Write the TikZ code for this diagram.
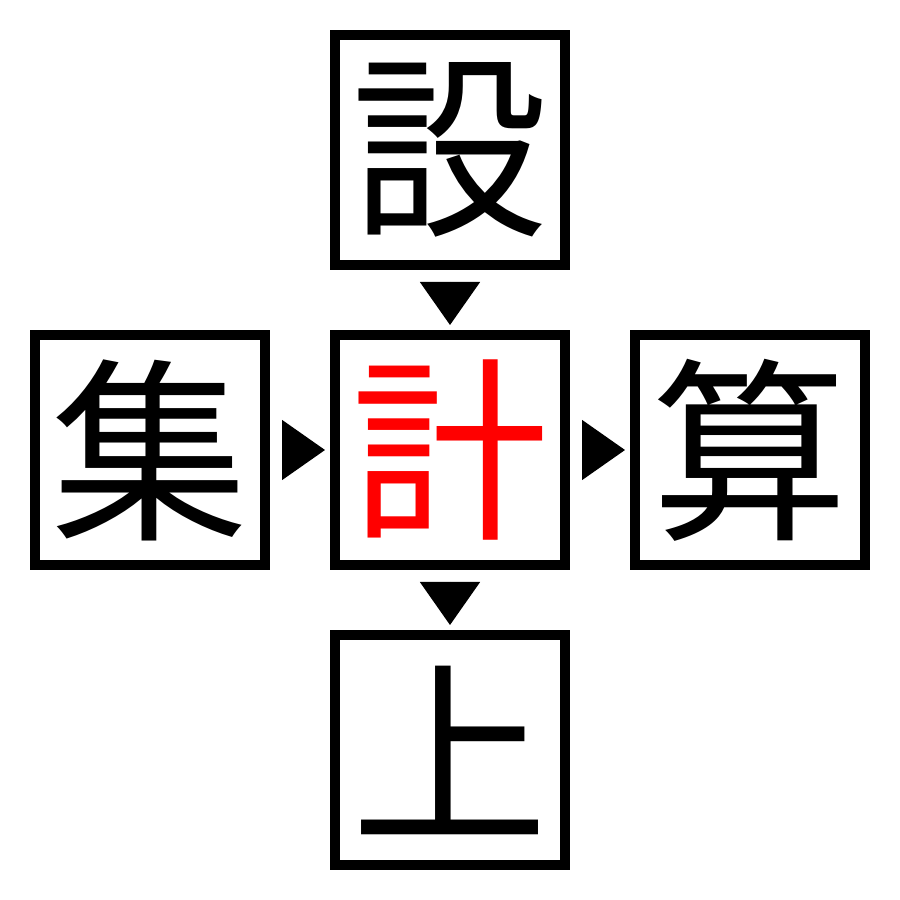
\documentclass[tikz,border=0pt]{standalone}
\usepackage{fontspec}
\newfontfamily\cjk{Noto Sans CJK JP}
\usepackage{tikz}
\usetikzlibrary{positioning,arrows.meta}
\tikzset{>=latex}
\usepackage{xcolor}
\colorlet{myred}{red}

\begin{document}
\begin{tikzpicture}[line join=miter,
                    cell/.style={draw, line width=1mm, minimum size=23mm, inner sep=0pt,
                                 font=\cjk\fontsize{56}{56}\selectfont},
                    pointer/.style={-{Triangle[width=6mm,length=4.3mm]}, shorten <=1.2mm, shorten >=0.5mm}]
  \useasboundingbox (0,0) rectangle (9,9);

% Caixas de cada caractere
  \node[cell, text=myred] (ctr) at (4.5,4.5) {計};
  \node[cell, above=6mm of ctr] (top) {設};
  \node[cell, left=6mm of ctr] (lft) {集};
  \node[cell, right=6mm of ctr] (rgt) {算};
  \node[cell, below=6mm of ctr] (bot) {上};

% Setas entre as caixas
  \draw[pointer] (top) -- (ctr);
  \draw[pointer] (lft) -- (ctr);
  \draw[pointer] (ctr) -- (rgt);
  \draw[pointer] (ctr) -- (bot);
\end{tikzpicture}
\end{document}
